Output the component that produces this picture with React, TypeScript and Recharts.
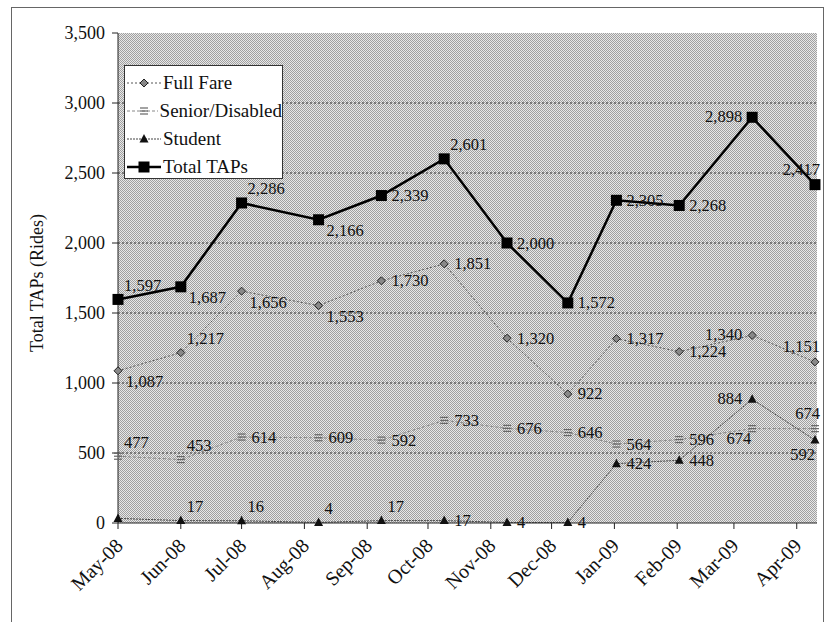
import { LineChart, Line, XAxis, YAxis, CartesianGrid, Legend, LabelList } from "recharts";

// month ticks on the time axis
const tickLabels = ["May-08", "Jun-08", "Jul-08", "Aug-08", "Sep-08", "Oct-08", "Nov-08", "Dec-08", "Jan-09", "Feb-09", "Mar-09", "Apr-09"];
const tickDates = ["2008-05-01", "2008-06-01", "2008-07-01", "2008-08-01", "2008-09-01", "2008-10-01", "2008-11-01", "2008-12-01", "2009-01-01", "2009-02-01", "2009-03-01", "2009-04-01"];

// date each monthly count was reported
const reportDates = ["2008-05-01", "2008-06-01", "2008-07-01", "2008-08-08", "2008-09-08", "2008-10-09", "2008-11-09", "2008-12-09", "2009-01-02", "2009-02-02", "2009-03-10", "2009-04-10"];

const fullFare = [1087, 1217, 1656, 1553, 1730, 1851, 1320, 922, 1317, 1224, 1340, 1151];
const seniorDisabled = [477, 453, 614, 609, 592, 733, 676, 646, 564, 596, 674, 674];
const student = [33, 17, 16, 4, 17, 17, 4, 4, 424, 448, 884, 592];
const totalTaps = [1597, 1687, 2286, 2166, 2339, 2601, 2000, 1572, 2305, 2268, 2898, 2417];

const yTicks = [0, 500, 1000, 1500, 2000, 2500, 3000, 3500];

// where each value label sits relative to its point ("" = no label)
type Pos = "r" | "ur" | "dr" | "l" | "ul" | "dl" | "d" | "";
const totalLabelPos: Pos[] = ["ur", "dr", "ur", "dr", "r", "ur", "r", "r", "r", "r", "l", "ul"];
const fullLabelPos: Pos[] = ["dr", "ur", "dr", "dr", "r", "r", "r", "r", "r", "r", "l", "ul"];
const seniorLabelPos: Pos[] = ["ur", "ur", "r", "r", "r", "r", "r", "r", "r", "r", "dl", "ul"];
const studentLabelPos: Pos[] = ["", "ur", "ur", "ur", "ur", "r", "r", "r", "r", "r", "l", "d"];

const FONT = "'Liberation Serif', 'DejaVu Serif', serif";
const START = Date.parse("2008-05-01");
const dayOf = (iso: string) => Math.round((Date.parse(iso) - START) / 86400000);
const tickDays = tickDates.map(dayOf);

const data = reportDates.map((d, i) => ({
  day: dayOf(d),
  fullFare: fullFare[i],
  senior: seniorDisabled[i],
  student: student[i],
  total: totalTaps[i],
}));

const OFFSETS: Record<string, [number, number, "start" | "middle" | "end"]> = {
  r: [10, 0, "start"],
  ur: [6, -14, "start"],
  dr: [8, 11, "start"],
  l: [-10, -1, "end"],
  ul: [5, -15, "end"],
  dl: [-1, 10, "end"],
  d: [0, 14, "end"],
};

const makeLabel = (pos: Pos[]) => (props: any) => {
  const x = props.x ?? props.viewBox?.x;
  const y = props.y ?? props.viewBox?.y;
  const p = pos[props.index];
  if (!p || x == null) return null;
  const [dx, dy, anchor] = OFFSETS[p];
  return (
    <text x={x + dx} y={y + dy} textAnchor={anchor} dominantBaseline="central" fontSize={16.5} fontFamily={FONT} fill="#111">
      {Number(props.value).toLocaleString("en-US")}
    </text>
  );
};

// point markers
const Diamond = ({ cx, cy }: any) => (
  <polygon points={`${cx},${cy - 4} ${cx + 4},${cy} ${cx},${cy + 4} ${cx - 4},${cy}`} fill="#888" stroke="#222" strokeWidth={1} />
);
const Stripes = ({ cx, cy }: any) => (
  <g stroke="#666" strokeWidth={1.2}>
    <line x1={cx - 4} y1={cy - 3} x2={cx + 4} y2={cy - 3} />
    <line x1={cx - 4} y1={cy} x2={cx + 4} y2={cy} />
    <line x1={cx - 4} y1={cy + 3} x2={cx + 4} y2={cy + 3} />
  </g>
);
const Triangle = ({ cx, cy }: any) => (
  <polygon points={`${cx},${cy - 5} ${cx + 4.5},${cy + 3.5} ${cx - 4.5},${cy + 3.5}`} fill="#111" />
);
const Square = ({ cx, cy }: any) => <rect x={cx - 5.5} y={cy - 5.5} width={11} height={11} fill="#000" />;

const dot = (Marker: any) => (props: any) => <Marker key={`m${props.index}`} cx={props.cx} cy={props.cy} />;

const series = [
  { key: "fullFare", name: "Full Fare", stroke: "#555", width: 1, dash: "2 2", Marker: Diamond },
  { key: "senior", name: "Senior/Disabled", stroke: "#888", width: 1, dash: "3 2", Marker: Stripes },
  { key: "student", name: "Student", stroke: "#444", width: 1, dash: "2 1", Marker: Triangle },
  { key: "total", name: "Total TAPs", stroke: "#000", width: 2.5, dash: undefined, Marker: Square },
];

const LegendBox = () => (
  <div style={{ border: "1px solid #333", background: "#fff", width: 159, height: 114, boxSizing: "border-box", padding: "3px 0 0 2px" }}>
    {series.map((s) => (
      <div key={s.key} style={{ display: "flex", alignItems: "center", height: 28, fontFamily: FONT, fontSize: 19, color: "#111", whiteSpace: "nowrap" }}>
        <svg width={34} height={14} style={{ marginRight: 2 }}>
          <line x1={0} y1={7} x2={34} y2={7} stroke={s.stroke} strokeWidth={s.width} strokeDasharray={s.dash} />
          <s.Marker cx={17} cy={7} />
        </svg>
        {s.name}
      </div>
    ))}
  </div>
);

const XTick = (props: any) => {
  const { x, y, payload } = props;
  const i = tickDays.indexOf(payload.value);
  const ax = x + 6;
  const ay = y + 16;
  return (
    <text x={ax} y={ay} transform={`rotate(-45, ${ax}, ${ay})`} textAnchor="end" fontSize={20} fontFamily={FONT} fill="#111">
      {tickLabels[i]}
    </text>
  );
};

export default function App() {
  const labels: Record<string, Pos[]> = {
    fullFare: fullLabelPos,
    senior: seniorLabelPos,
    student: studentLabelPos,
    total: totalLabelPos,
  };
  return (
    <div style={{ position: "absolute", left: 0, top: 0, width: 825, height: 622, overflow: "hidden", background: "#fff" }}>
      <div style={{ position: "absolute", left: 11, top: 7, width: 811, height: 700, border: "1px solid #666" }} />
      <svg width={825} height={622} style={{ position: "absolute", left: 0, top: 0 }}>
        <text x={37} y={283} transform="rotate(-90, 37, 283)" textAnchor="middle" dominantBaseline="central" fontSize={18} fontFamily={FONT} fill="#111">
          Total TAPs (Rides)
        </text>
      </svg>
      <div style={{ position: "absolute", left: 0, top: 0 }}>
        <LineChart width={825} height={622} data={data} margin={{ top: 33, right: 8, bottom: 0, left: 0 }}>
          <defs>
            <pattern id="screen" width={2} height={2} patternUnits="userSpaceOnUse">
              <rect width={2} height={2} fill="#e8e8e8" />
              <rect width={1} height={1} fill="#a0a0a0" />
              <rect x={1} y={1} width={1} height={1} fill="#a0a0a0" />
            </pattern>
          </defs>
          <CartesianGrid
            vertical={false}
            horizontalValues={[500, 1000, 1500, 2000, 2500, 3000]}
            fill="url(#screen)"
            fillOpacity={1}
            stroke="#333"
            strokeDasharray="2 2"
          />
          <XAxis
            type="number"
            dataKey="day"
            domain={[0, 345]}
            ticks={tickDays}
            interval={0}
            tick={<XTick />}
            tickSize={6}
            tickLine={{ stroke: "#222" }}
            axisLine={{ stroke: "#222" }}
            height={99}
          />
          <YAxis
            domain={[0, 3500]}
            ticks={yTicks}
            interval={0}
            width={118}
            tickSize={6}
            tickMargin={7}
            tickFormatter={(v: number) => v.toLocaleString("en-US")}
            tick={{ fontSize: 18, fontFamily: FONT, fill: "#111" }}
            tickLine={{ stroke: "#222" }}
            axisLine={{ stroke: "#222" }}
          />
          <Legend
            layout="vertical"
            align="center"
            verticalAlign="middle"
            content={<LegendBox />}
            wrapperStyle={{ position: "absolute", left: 124, top: 65, width: 159, height: 114 }}
          />
          {series.map((s) => (
            <Line
              key={s.key}
              dataKey={s.key}
              name={s.name}
              type="linear"
              stroke={s.stroke}
              strokeWidth={s.width}
              strokeDasharray={s.dash}
              dot={dot(s.Marker)}
              activeDot={false}
              isAnimationActive={false}
            >
              <LabelList dataKey={s.key} content={makeLabel(labels[s.key])} />
            </Line>
          ))}
        </LineChart>
      </div>
    </div>
  );
}
